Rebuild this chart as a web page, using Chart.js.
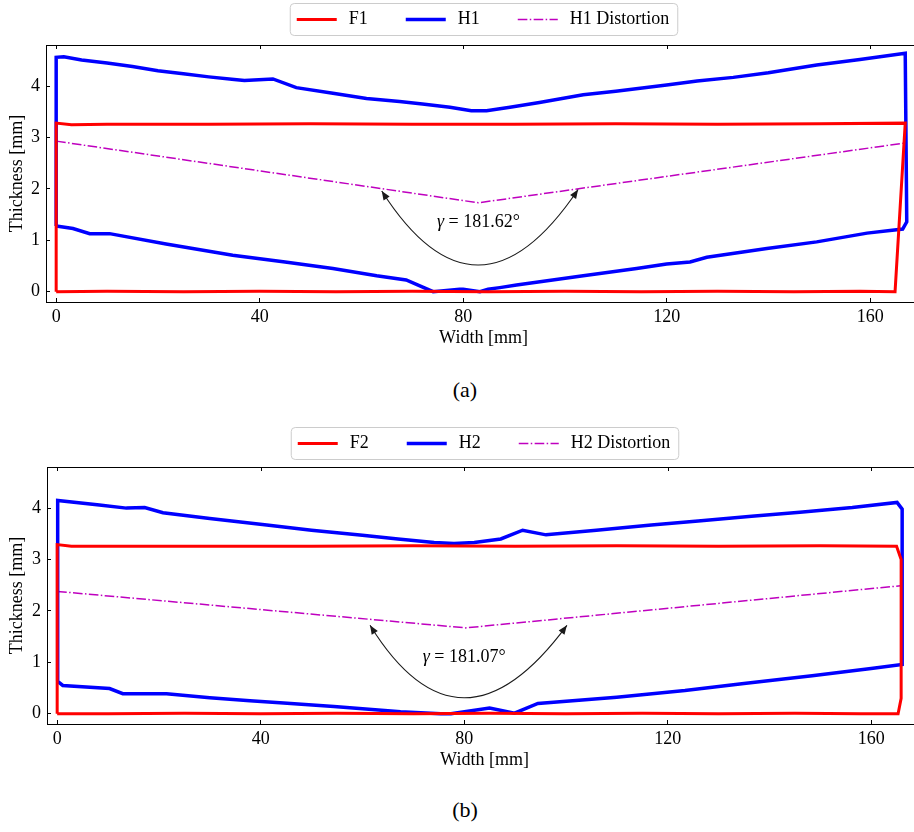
<!DOCTYPE html>
<html>
<head>
<meta charset="utf-8">
<script src="https://cdn.jsdelivr.net/npm/chart.js@4.4.1/dist/chart.umd.min.js"></script>
<style>
  html, body { margin: 0; padding: 0; background: #fff; width: 914px; height: 832px; overflow: hidden; }
  .wrap { position: absolute; left: 0; width: 922px; height: 360px; }
  .cap { position: absolute; left: 415px; width: 100px; text-align: center; font: 22px "Liberation Serif", serif; line-height: 26px; color: #000; }
</style>
</head>
<body>
<div class="wrap" style="top:0"><canvas id="chart-a" width="922" height="360"></canvas></div>
<div class="cap" style="top:377px">(a)</div>
<div class="wrap" style="top:422px"><canvas id="chart-b" width="922" height="360"></canvas></div>
<div class="cap" style="top:797px">(b)</div>
<script>
const xTicks = [0, 40, 80, 120, 160];
const yTicks = [0, 1, 2, 3, 4];

// (a) specimen 1 : outline of F1 and H1 sections, width [mm] / thickness [mm]
const f1X = [0, 10, 25, 40, 55, 70, 85, 100, 115, 130, 145, 158, 164.9, 166.9, 150, 130, 110, 90, 70, 50, 30, 10, 3, 0, 0];
const f1Y = [0, 0.01, 0, 0.01, 0, 0.01, 0, 0.01, 0, 0.01, 0, 0.01, 0, 3.28, 3.27, 3.26, 3.27, 3.26, 3.26, 3.27, 3.26, 3.26, 3.25, 3.28, 0];
const h1X = [0, 0, 1.5, 5, 10, 15, 20, 25, 30, 35, 37, 42.6, 47.2, 54.4, 61, 67.5, 72, 77.4, 81.6, 84.6, 89.2, 95, 103.6, 110, 120, 126, 133.1, 140, 149.5, 158, 166.9,
             167.2, 166.4, 159.4, 149.5, 139.7, 127.9, 124.6, 120, 114.1, 103.6, 90.5, 87.2, 84.9, 83.3, 80.0, 79.3, 74.1, 68.8, 63.0, 54.4, 45, 34.7, 21.6, 10.5, 6.6, 3.3, 0];
const h1Y = [1.28, 4.56, 4.57, 4.51, 4.45, 4.38, 4.30, 4.24, 4.18, 4.13, 4.11, 4.14, 3.97, 3.86, 3.76, 3.70, 3.65, 3.59, 3.52, 3.52, 3.59, 3.68, 3.83, 3.90, 4.02, 4.10, 4.17, 4.26, 4.41, 4.52, 4.64,
             1.36, 1.22, 1.14, 0.97, 0.84, 0.67, 0.58, 0.54, 0.45, 0.31, 0.13, 0.08, 0.05, 0.0, 0.05, 0.05, 0.0, 0.23, 0.31, 0.45, 0.58, 0.71, 0.93, 1.13, 1.13, 1.23, 1.28];
const d1X = [0, 83, 166.6];
const d1Y = [2.93, 1.73, 2.89];
const arc1Tips = [[64, 1.96], [102.6, 1.99]];
const arc1Low = [83, 0.52];
const arc1Label = [83, 1.36];
const gamma1 = '181.62°';

// (b) specimen 2
const f2X = [0, 10, 25, 40, 55, 70, 85, 100, 115, 130, 145, 158, 165.3, 165.9, 165.9, 165.0, 150, 130, 110, 90, 70, 50, 30, 10, 2.8, 0, 0];
const f2Y = [0, 0, 0.01, 0, 0.01, 0, 0.01, 0, 0.01, 0, 0.01, 0, 0, 0.3, 3.0, 3.26, 3.27, 3.26, 3.27, 3.26, 3.27, 3.26, 3.26, 3.26, 3.26, 3.29, 0];
const h2X = [0.1, 0.1, 8.3, 13.6, 17.2, 20.8, 30, 41.2, 50, 60, 67, 74.1, 78.0, 82, 87.2, 91.5, 96.1, 106, 116.8, 126, 136.5, 146, 156.3, 165.1, 166.1,
             166.1, 160, 148.4, 135, 123.4, 110, 94.5, 89.9, 85.0, 77.4, 75.4, 67.5, 54.4, 44.5, 37.9, 30, 21.5, 16.2, 12.9, 10.3, 1.1, 0.1];
const h2Y = [0.63, 4.15, 4.06, 4.00, 4.01, 3.91, 3.80, 3.67, 3.57, 3.47, 3.40, 3.33, 3.31, 3.33, 3.40, 3.57, 3.48, 3.57, 3.67, 3.75, 3.84, 3.92, 4.01, 4.11, 3.98,
             0.96, 0.88, 0.74, 0.59, 0.45, 0.32, 0.20, 0.01, 0.11, 0.0, 0.0, 0.04, 0.14, 0.21, 0.25, 0.31, 0.39, 0.39, 0.39, 0.49, 0.55, 0.63];
const d2X = [0, 80.3, 165.8];
const d2Y = [2.38, 1.67, 2.49];
const arc2Tips = [[61.5, 1.72], [100.2, 1.72]];
const arc2Low = [80, 0.31];
const arc2Label = [80, 1.09];
const gamma2 = '181.07°';

const SERIF = '"Liberation Serif", "Times New Roman", serif';
Chart.defaults.font.family = SERIF;
Chart.defaults.color = '#000';

const pts = (xs, ys) => xs.map((v, i) => ({x: v, y: ys[i]}));

// full box round the axes, with inward ticks on the top and right sides
const framePlugin = {
  id: 'frame',
  afterDatasetsDraw(chart) {
    const {ctx, chartArea: a, scales: {x, y}} = chart;
    ctx.save();
    ctx.strokeStyle = '#000';
    ctx.lineWidth = 1;
    ctx.strokeRect(a.left + 0.5, a.top + 0.5, a.right - a.left - 1, a.bottom - a.top);
    ctx.beginPath();
    x.ticks.forEach(t => {
      const px = Math.round(x.getPixelForValue(t.value)) + 0.5;
      ctx.moveTo(px, a.top);
      ctx.lineTo(px, a.top + 4);
    });
    y.ticks.forEach(t => {
      const py = Math.round(y.getPixelForValue(t.value)) + 0.5;
      ctx.moveTo(a.right, py);
      ctx.lineTo(a.right - 4, py);
    });
    ctx.stroke();
    ctx.restore();
  }
};

// legend in a rounded box above the axes
const boxLegend = {
  id: 'boxLegend',
  afterDraw(chart, args, opts) {
    const {ctx, chartArea: a} = chart;
    const sets = chart.data.datasets;
    ctx.save();
    ctx.font = '18px ' + SERIF;
    const widths = sets.map(d => 52 + ctx.measureText(d.label).width);
    const total = 15 + widths.reduce((s, w) => s + w, 0) + 38 * (sets.length - 1);
    const left = (a.left + a.right) / 2 - total / 2;
    const top = opts.top, h = 32;
    ctx.beginPath();
    ctx.roundRect(left + 0.5, top + 0.5, total, h, 4);
    ctx.fillStyle = 'rgba(255,255,255,0.8)';
    ctx.fill();
    ctx.strokeStyle = '#cccccc';
    ctx.lineWidth = 1;
    ctx.stroke();
    let cx = left + 7;
    const cy = top + h / 2 + 0.5;
    sets.forEach((d, i) => {
      ctx.strokeStyle = d.borderColor;
      ctx.lineWidth = d.borderWidth;
      ctx.setLineDash(d.borderDash || []);
      ctx.beginPath();
      ctx.moveTo(cx, cy);
      ctx.lineTo(cx + 40, cy);
      ctx.stroke();
      ctx.setLineDash([]);
      ctx.fillStyle = '#000';
      ctx.textBaseline = 'middle';
      ctx.textAlign = 'left';
      ctx.fillText(d.label, cx + 52, cy);
      cx += widths[i] + 38;
    });
    ctx.restore();
  }
};

// curved double arrow with the angle label
const anglePlugin = {
  id: 'angleArc',
  afterDatasetsDraw(chart, args, o) {
    const {ctx, scales: {x, y}} = chart;
    const P = p => [x.getPixelForValue(p[0]), y.getPixelForValue(p[1])];
    const A = P(o.tips[0]), B = P(o.tips[1]), M = P(o.low);
    const C = [2 * M[0] - (A[0] + B[0]) / 2, 2 * M[1] - (A[1] + B[1]) / 2];
    ctx.save();
    ctx.strokeStyle = '#1a1a1a';
    ctx.fillStyle = '#1a1a1a';
    ctx.lineWidth = 1.1;
    ctx.beginPath();
    ctx.moveTo(A[0], A[1]);
    ctx.quadraticCurveTo(C[0], C[1], B[0], B[1]);
    ctx.stroke();
    [A, B].forEach(tip => {
      const ang = Math.atan2(tip[1] - C[1], tip[0] - C[0]);
      const L = 9, W = 3.6;
      const bx = tip[0] - L * Math.cos(ang), by = tip[1] - L * Math.sin(ang);
      ctx.beginPath();
      ctx.moveTo(tip[0], tip[1]);
      ctx.lineTo(bx + W * Math.sin(ang), by - W * Math.cos(ang));
      ctx.lineTo(bx - W * Math.sin(ang), by + W * Math.cos(ang));
      ctx.closePath();
      ctx.fill();
    });
    const T = P(o.label);
    const rest = ' = ' + o.text;
    ctx.font = 'italic 18px ' + SERIF;
    const wg = ctx.measureText('γ').width;
    ctx.font = '18px ' + SERIF;
    const wr = ctx.measureText(rest).width;
    const sx = T[0] - (wg + wr) / 2;
    ctx.fillStyle = '#000';
    ctx.textBaseline = 'middle';
    ctx.textAlign = 'left';
    ctx.font = 'italic 18px ' + SERIF;
    ctx.fillText('γ', sx, T[1]);
    ctx.font = '18px ' + SERIF;
    ctx.fillText(rest, sx + wg, T[1]);
    ctx.restore();
  }
};

function makeChart(id, names, series, arc, legendTop, yWidth, padRight) {
  const [fX, fY, hX, hY, dX, dY] = series;
  new Chart(document.getElementById(id), {
    type: 'line',
    data: {
      datasets: [
        {label: names[0], data: pts(fX, fY), borderColor: '#ff0000', borderWidth: 3},
        {label: names[1], data: pts(hX, hY), borderColor: '#0000ff', borderWidth: 3.5},
        {label: names[2], data: pts(dX, dY), borderColor: '#bf00bf', borderWidth: 1.5, borderDash: [9.6, 2.4, 1.5, 2.4]}
      ]
    },
    options: {
      responsive: false,
      animation: false,
      events: [],
      elements: {point: {radius: 0}, line: {tension: 0, fill: false}},
      layout: {padding: {top: 45, right: padRight, bottom: 0, left: 0}},
      scales: {
        x: {
          type: 'linear', min: -2, max: 170,
          afterBuildTicks: s => { s.ticks = xTicks.map(v => ({value: v})); },
          afterFit: s => { s.height = 58; },
          grid: {drawOnChartArea: false, tickLength: -4, tickColor: '#000', tickWidth: 1},
          border: {color: '#000', width: 1},
          ticks: {color: '#000', font: {size: 18}, padding: 8, maxRotation: 0, autoSkip: false},
          title: {display: true, text: 'Width [mm]', color: '#000', font: {size: 18}, padding: {top: 0, bottom: 11}}
        },
        y: {
          type: 'linear', min: -0.2, max: 4.8,
          afterBuildTicks: s => { s.ticks = yTicks.map(v => ({value: v})); },
          afterFit: s => { s.width = yWidth; },
          grid: {drawOnChartArea: false, tickLength: -4, tickColor: '#000', tickWidth: 1},
          border: {color: '#000', width: 1},
          ticks: {color: '#000', font: {size: 18}, padding: 10, autoSkip: false},
          title: {display: true, text: 'Thickness [mm]', color: '#000', font: {size: 18}, padding: {top: 6, bottom: 0}}
        }
      },
      plugins: {
        legend: {display: false},
        tooltip: {enabled: false},
        boxLegend: {top: legendTop},
        angleArc: arc
      }
    },
    plugins: [framePlugin, boxLegend, anglePlugin]
  });
}

makeChart('chart-a', ['F1', 'H1', 'H1 Distortion'], [f1X, f1Y, h1X, h1Y, d1X, d1Y],
  {tips: arc1Tips, low: arc1Low, label: arc1Label, text: gamma1}, 3, 46, 1);
makeChart('chart-b', ['F2', 'H2', 'H2 Distortion'], [f2X, f2Y, h2X, h2Y, d2X, d2Y],
  {tips: arc2Tips, low: arc2Low, label: arc2Label, text: gamma2}, 5, 47, 0);
</script>
</body>
</html>
